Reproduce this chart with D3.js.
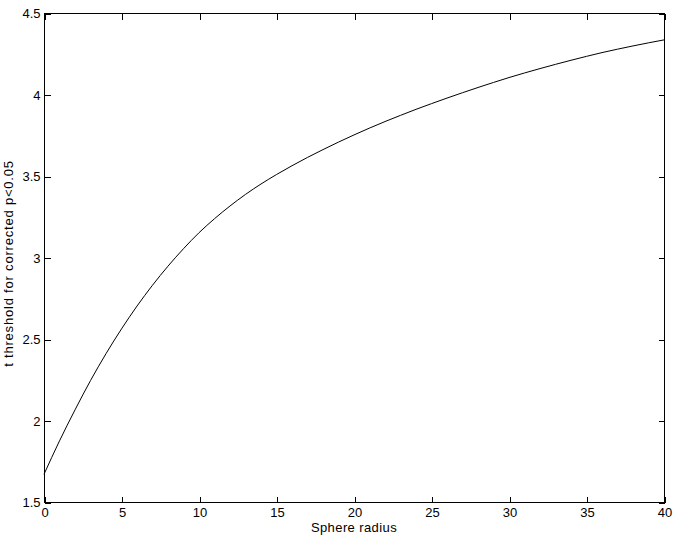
<!DOCTYPE html>
<html>
<head>
<meta charset="utf-8">
<script src="https://cdn.jsdelivr.net/npm/d3@7"></script>
<style>
  body { margin: 0; background: #fff; }
  svg text { font-family: "Liberation Sans", Arial, sans-serif; font-size: 13px; fill: #000; }
</style>
</head>
<body>
<svg id="canvas"></svg>
<script>
// sphere radius vs t threshold
let radius = [0, 1, 2, 3, 4, 5, 6, 7, 8, 9, 10,
              11, 12, 13, 14, 15, 16, 17, 18, 19, 20,
              21, 22, 23, 24, 25, 26, 27, 28, 29, 30,
              31, 32, 33, 34, 35, 36, 37, 38, 39, 40];
let threshold = [1.670, 1.875, 2.065, 2.245, 2.410, 2.562, 2.702, 2.830, 2.947, 3.054, 3.152,
                 3.238, 3.316, 3.387, 3.451, 3.509, 3.563, 3.614, 3.662, 3.708, 3.752,
                 3.794, 3.834, 3.872, 3.909, 3.944, 3.978, 4.011, 4.043, 4.074, 4.104,
                 4.132, 4.159, 4.185, 4.210, 4.234, 4.257, 4.278, 4.298, 4.317, 4.335];

let xTicks = [0, 5, 10, 15, 20, 25, 30, 35, 40];
let yTicks = [1.5, 2, 2.5, 3, 3.5, 4, 4.5];

let width = 676;
let height = 539;
let padLeft = 44, padRight = 664, padTop = 13, padBottom = 502;
let tickLen = 6;

let canvas = d3.select('#canvas');
canvas.attr('width', width).attr('height', height);

let xScale = d3.scaleLinear().domain([0, 40]).range([padLeft, padRight]);
let yScale = d3.scaleLinear().domain([1.5, 4.5]).range([padBottom, padTop]);

// box
canvas.append('rect')
    .attr('x', padLeft + 0.5).attr('y', padTop + 0.5)
    .attr('width', padRight - padLeft).attr('height', padBottom - padTop)
    .attr('fill', 'none').attr('stroke', '#000')
    .attr('shape-rendering', 'crispEdges');

// ticks pointing inward, on all four sides
let xAxis = d3.axisBottom(xScale).tickValues(xTicks).tickSize(-tickLen).tickPadding(5).tickFormat(d3.format('d'));
canvas.append('g')
    .attr('transform', 'translate(0.5,' + (padBottom + 0.5) + ')')
    .call(xAxis);

let xTop = d3.axisTop(xScale).tickValues(xTicks).tickSize(-tickLen).tickFormat('');
canvas.append('g')
    .attr('transform', 'translate(0.5,' + (padTop + 0.5) + ')')
    .call(xTop);

let yAxis = d3.axisLeft(yScale).tickValues(yTicks).tickSize(-tickLen).tickPadding(4).tickFormat(d3.format('~g'));
canvas.append('g')
    .attr('transform', 'translate(' + (padLeft + 0.5) + ',0.5)')
    .call(yAxis);

let yRight = d3.axisRight(yScale).tickValues(yTicks).tickSize(-tickLen).tickFormat('');
canvas.append('g')
    .attr('transform', 'translate(' + (padRight + 0.5) + ',0.5)')
    .call(yRight);

canvas.selectAll('.domain').remove();
canvas.selectAll('.tick line').attr('stroke', '#000').attr('shape-rendering', 'crispEdges');
canvas.selectAll('.tick text')
    .attr('font-family', '"Liberation Sans", Arial, sans-serif')
    .attr('font-size', 13).attr('fill', '#000');

// curve
let line = d3.line()
    .x((d, i) => xScale(d))
    .y((d, i) => yScale(threshold[i]))
    .curve(d3.curveMonotoneX);

canvas.append('path')
    .datum(radius)
    .attr('d', line)
    .attr('fill', 'none')
    .attr('stroke', '#000')
    .attr('stroke-width', 1);

// labels
canvas.append('text')
    .attr('x', (padLeft + padRight) / 2)
    .attr('y', 532)
    .attr('text-anchor', 'middle')
    .attr('letter-spacing', 0.4)
    .text('Sphere radius');

canvas.append('text')
    .attr('transform', 'translate(13,' + ((padTop + padBottom) / 2 + 6) + ') rotate(-90)')
    .attr('text-anchor', 'middle')
    .attr('letter-spacing', 0.8)
    .text('t threshold for corrected p<0.05');
</script>
</body>
</html>
